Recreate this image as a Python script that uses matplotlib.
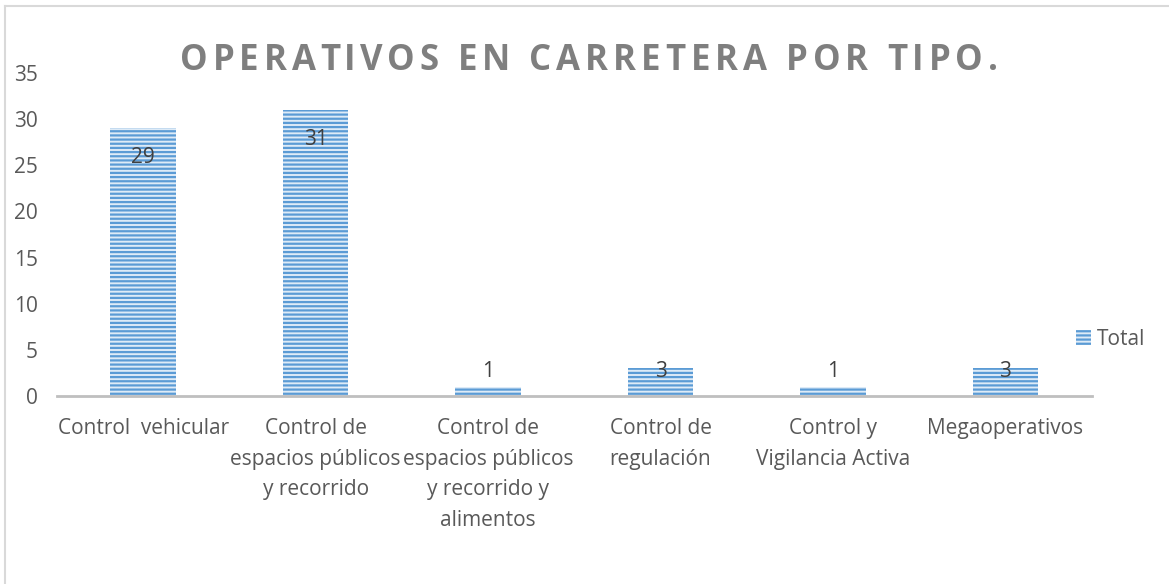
import numpy as np
import matplotlib
matplotlib.use('Agg')
import matplotlib.pyplot as plt
from matplotlib.lines import Line2D

plt.rcParams['font.family'] = ['Open Sans', 'DejaVu Sans']
plt.rcParams['hatch.linewidth'] = 1.6

# Data
categorias = ['Control  vehicular',
              'Control de\nespacios públicos\ny recorrido',
              'Control de\nespacios públicos\ny recorrido y\nalimentos',
              'Control de\nregulación',
              'Control y\nVigilancia Activa',
              'Megaoperativos']
totales = [29, 31, 1, 3, 1, 3]
serie = 'Total'
titulo = 'OPERATIVOS EN CARRETERA POR TIPO.'
y_ticks = [0, 5, 10, 15, 20, 25, 30, 35]

azul = '#5B9BD5'
claro = '#DEEBF7'
gris_txt = '#595959'
fs = 15

W, H = 1169, 584
fig = plt.figure(figsize=(W / 100, H / 100), dpi=100)
ax = fig.add_axes([0.0488, 0.3219, 0.885, 0.553])

x = np.arange(len(categorias))
bars = ax.bar(x, totales, width=0.38, color=claro, edgecolor=azul,
              linewidth=0, hatch='----', label=serie)

ax.set_xlim(-0.5, len(categorias) - 0.5)
ax.set_ylim(0, 35)
ax.set_yticks(y_ticks)
ax.set_xticks(x)
ax.set_xticklabels(categorias, fontsize=fs, color=gris_txt, linespacing=1.6)
ax.tick_params(axis='y', labelsize=fs, labelcolor=gris_txt, length=0, pad=14)
ax.tick_params(axis='x', length=0, pad=16)

for s in ['top', 'right', 'left']:
    ax.spines[s].set_visible(False)
ax.spines['bottom'].set_color('#BFBFBF')
ax.spines['bottom'].set_linewidth(2)

# etiquetas de datos
for xi, v in zip(x, totales):
    if v > 5:
        ax.annotate(str(v), (xi, v), xytext=(0, -21), textcoords='offset points',
                    ha='center', va='center', fontsize=fs, color='#404040')
    else:
        ax.annotate(str(v), (xi, 0), xytext=(0, 18), textcoords='offset points',
                    ha='center', va='center', fontsize=fs, color='#404040')

# titulo con espaciado entre letras (letra por letra)
renderer = fig.canvas.get_renderer()
tfs = 25

def ancho(s):
    t = fig.text(0, 0, s, fontsize=tfs, fontweight='bold')
    w = t.get_window_extent(renderer).width
    t.remove()
    return w

base = ancho('|')
pos = [ancho(titulo[:i] + '|') - base for i in range(len(titulo))]
total_nat = pos[-1] + ancho(titulo[-1])
x0, x1 = 180, 998
esp = ((x1 - x0) - total_nat) / (len(titulo) - 1)
for i, ch in enumerate(titulo):
    if ch == ' ':
        continue
    fig.text((x0 + pos[i] + i * esp) / W, (H - 70) / H, ch, ha='left',
             va='baseline', fontsize=tfs, fontweight='bold', color='#7F7F7F')

leg = ax.legend(loc='center left', bbox_to_anchor=(0.985, 0.175), frameon=False,
                fontsize=fs, handlelength=0.7, handleheight=0.7, handletextpad=0.3,
                borderpad=0, borderaxespad=0)
for t in leg.get_texts():
    t.set_color(gris_txt)

# borde del grafico
fig.add_artist(Line2D([0.0043, 0.0043], [0, 0.99], color='#D9D9D9', lw=1.5))
fig.add_artist(Line2D([0.0043, 1], [0.99, 0.99], color='#D9D9D9', lw=1.5))

fig.savefig('out.png', dpi=100)
